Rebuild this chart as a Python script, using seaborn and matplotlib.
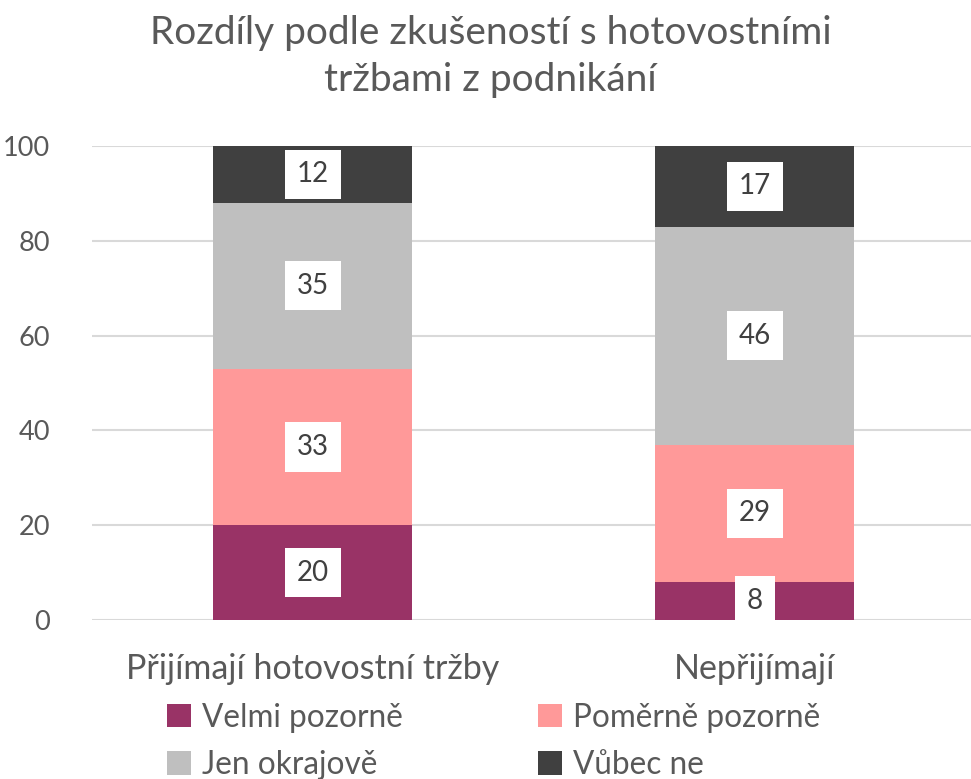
import numpy as np
import pandas as pd
import matplotlib
matplotlib.use("Agg")
import matplotlib.pyplot as plt
import seaborn as sns
from matplotlib.patches import Patch

# data
categories = ["Přijímají hotovostní tržby", "Nepřijímají"]
series_names = ["Velmi pozorně", "Poměrně pozorně", "Jen okrajově", "Vůbec ne"]
velmi = [20, 8]
pomerne = [33, 29]
okrajove = [35, 46]
vubec = [12, 17]
colors = ["#993366", "#FF9999", "#BFBFBF", "#404040"]

sns.set_style("white")
plt.rcParams["font.family"] = ["Lato", "DejaVu Sans"]

values = np.array([velmi, pomerne, okrajove, vubec])
cums = values.cumsum(axis=0)

fig = plt.figure(figsize=(9.71, 7.79), dpi=100)
ax = fig.add_axes([0.0947, 0.2041, 0.9053, 0.6085])

# stacked bars: draw the cumulative totals from the top segment down
for i in range(len(series_names) - 1, -1, -1):
    df = pd.DataFrame({"kategorie": categories, "hodnota": cums[i]})
    sns.barplot(data=df, x="kategorie", y="hodnota", color=colors[i],
                width=0.45, saturation=1, linewidth=0, ax=ax, zorder=2)

# value labels in white boxes
for i in range(len(series_names)):
    for j in range(len(categories)):
        y = cums[i][j] - values[i][j] / 2
        ax.text(j, y, str(values[i][j]), ha="center", va="center",
                fontsize=20, color="#404040", zorder=4,
                bbox=dict(boxstyle="square,pad=0.42", fc="white", ec="none"))

ax.set_ylim(0, 100)
ax.set_xlim(-0.5, 1.489)
ax.set_yticks([0, 20, 40, 60, 80, 100])
ax.yaxis.grid(True, color="#D9D9D9", linewidth=1.5, zorder=0)
ax.set_axisbelow(True)
for s in ax.spines.values():
    s.set_visible(False)
ax.tick_params(axis="x", length=0, labelsize=24.5, colors="#595959", pad=24)
ax.tick_params(axis="y", length=0, labelsize=19.5, colors="#595959", pad=30)
ax.set_xlabel("")
ax.set_ylabel("")

fig.text(0.505, 0.928, "Rozdíly podle zkušeností s hotovostními\ntržbami z podnikání",
         fontsize=28, color="#595959", ha="center", va="center", linespacing=1.38)

# legend filled row by row (matplotlib fills columns, so reorder)
handles = [Patch(facecolor=c, edgecolor="none") for c in colors]
order = [0, 2, 1, 3]
fig.legend([handles[k] for k in order], [series_names[k] for k in order],
           loc="upper left", bbox_to_anchor=(0.172, 0.098),
           ncol=2, frameon=False, fontsize=22.7, labelcolor="#595959",
           handlelength=0.75, handleheight=0.75, handletextpad=0.35,
           columnspacing=4.3, labelspacing=0.55, borderaxespad=0, borderpad=0)

fig.savefig("out.png", dpi=100)
